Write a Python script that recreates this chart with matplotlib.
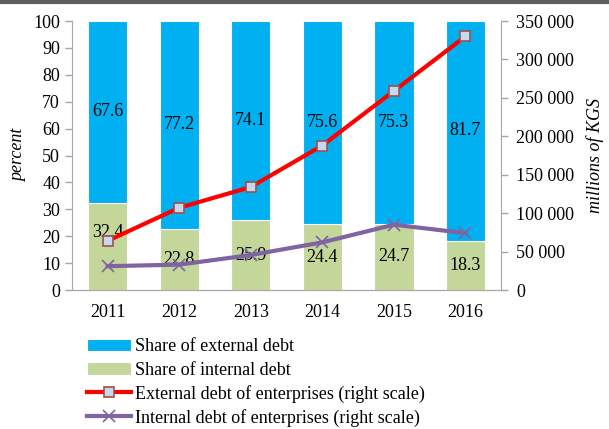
import numpy as np
import matplotlib
matplotlib.use("Agg")
import matplotlib.pyplot as plt
from matplotlib.ticker import FuncFormatter
from matplotlib.lines import Line2D

years = ["2011", "2012", "2013", "2014", "2015", "2016"]
share_internal = [32.4, 22.8, 25.9, 24.4, 24.7, 18.3]
share_external = [67.6, 77.2, 74.1, 75.6, 75.3, 81.7]
external_debt = [64000, 107000, 134000, 188000, 259000, 330000]
internal_debt = [31000, 33000, 45500, 62000, 85000, 74000]

plt.rcParams["font.family"] = ["Liberation Serif", "DejaVu Serif"]
plt.rcParams["font.size"] = 13

BLUE = "#00B0F0"
GREEN = "#C4D79B"
GRAY = "#A6A6A6"


def thousands(v, pos):
    return f"{int(v):,}".replace(",", " ")


def main():
    fig = plt.figure(figsize=(6.09, 4.29), dpi=100)
    ax = fig.add_axes([0.118, 0.324, 0.705, 0.627])
    ax2 = ax.twinx()

    x = np.arange(len(years))
    w = 0.55
    b1 = ax.bar(x, share_internal, w, color=GREEN, edgecolor="white", linewidth=0.8,
                label="Share of internal debt", zorder=2)
    b2 = ax.bar(x, share_external, w, bottom=share_internal, color=BLUE, edgecolor="white",
                linewidth=0.8, label="Share of external debt", zorder=2)

    for i in range(len(years)):
        yi = share_internal[i] / 2
        if i == 0:
            yi = 21.5  # label pushed up in original
        ax.text(x[i], yi, f"{share_internal[i]:.1f}", ha="center", va="center", zorder=5)
        ax.text(x[i], share_internal[i] + share_external[i] / 2, f"{share_external[i]:.1f}",
                ha="center", va="center", zorder=5)

    l1, = ax2.plot(x, external_debt, color="#FF0000", lw=3, marker="s", ms=7,
                   mfc="#C6D9F1", mec="#A0504D", mew=1.2,
                   label="External debt of enterprises (right scale)")
    l2, = ax2.plot(x, internal_debt, color="#8064A2", lw=3, marker="x", ms=9,
                   mec="#8064A2", mew=1.2,
                   label="Internal debt of enterprises (right scale)")

    ax.set_xlim(-0.5, 5.5)
    ax.set_ylim(0, 100)
    ax.set_yticks(range(0, 101, 10))
    ax2.set_ylim(0, 350000)
    ax2.set_yticks(range(0, 350001, 50000))
    ax2.yaxis.set_major_formatter(FuncFormatter(thousands))
    ax.set_xticks(x)
    ax.set_xticklabels(years)

    for a in (ax, ax2):
        a.spines["top"].set_visible(False)
        for s in ("left", "right", "bottom"):
            a.spines[s].set_color(GRAY)
        a.tick_params(axis="y", color=GRAY, length=5, width=1)
    ax.tick_params(axis="x", length=0, pad=10)
    ax2.tick_params(axis="y", pad=6)
    ax.spines["right"].set_visible(False)
    ax2.spines["left"].set_visible(False)

    ax.set_ylabel("percent", style="italic", labelpad=0)
    ax2.set_ylabel("millions of KGS", style="italic", rotation=90, labelpad=8)
    ax.yaxis.set_label_coords(-0.105, 0.5)

    ax.set_zorder(ax2.get_zorder() - 1)
    ax2.patch.set_visible(False)

    fig.legend([b2, b1, l1, l2], [h.get_label() for h in (b2, b1, l1, l2)],
               loc="upper left", bbox_to_anchor=(0.128, 0.232), frameon=False,
               handlelength=2.45, labelspacing=0.34, handletextpad=0.2, borderpad=0)

    fig.add_artist(Line2D([0, 1], [0.996, 0.996], color="#606060", lw=3,
                          transform=fig.transFigure))

    fig.savefig("out.png", dpi=100)


if __name__ == "__main__":
    main()
